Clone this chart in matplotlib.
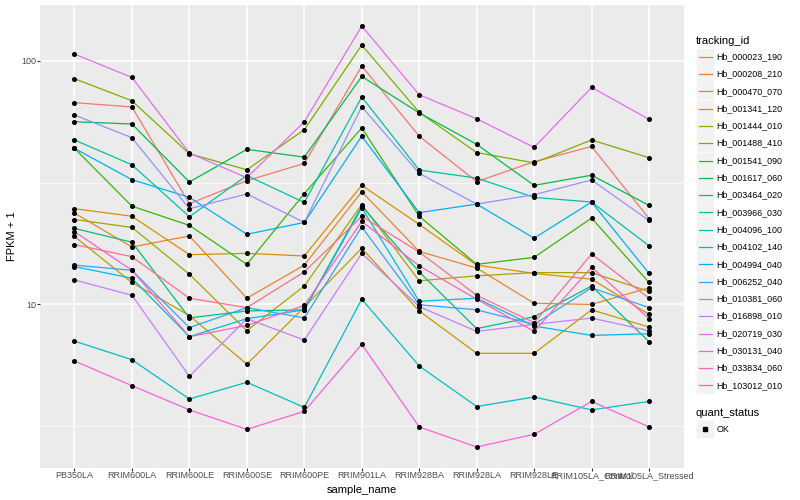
import numpy as np
import matplotlib.pyplot as plt
from matplotlib.lines import Line2D
from matplotlib.patches import Rectangle
from matplotlib.ticker import FixedLocator, NullFormatter

plt.rcParams["font.family"] = ["Liberation Sans", "DejaVu Sans"]

samples = ["PB350LA", "RRIM600LA", "RRIM600LE", "RRIM600SE", "RRIM600PE", "RRIM901LA",
           "RRIM928BA", "RRIM928LA", "RRIM928LE", "RRIM105LA_Control", "RRIM105LA_Stressed"]

tracking_ids = ["Hb_000023_190", "Hb_000208_210", "Hb_000470_070", "Hb_001341_120",
                "Hb_001444_010", "Hb_001488_410", "Hb_001541_090", "Hb_001617_060",
                "Hb_003464_020", "Hb_003966_030", "Hb_004096_100", "Hb_004102_140",
                "Hb_004994_040", "Hb_006252_040", "Hb_010381_060", "Hb_016898_010",
                "Hb_020719_030", "Hb_030131_040", "Hb_033834_060", "Hb_103012_010"]

# FPKM + 1, one list per gene, in sample order
hb_000023_190 = [67.3, 64.6, 25.9, 32.2, 37.9, 95.1, 49.0, 31.9, 38.5, 44.5, 22.5]
hb_000208_210 = [23.7, 17.2, 19.1, 10.6, 14.5, 29.0, 16.5, 14.1, 10.1, 10.0, 11.7]
hb_000470_070 = [24.7, 23.0, 16.0, 16.2, 15.8, 30.8, 21.3, 14.5, 13.4, 12.7, 9.1]
hb_001341_120 = [19.0, 12.3, 9.0, 5.68, 9.75, 17.0, 9.4, 6.3, 6.3, 9.5, 8.07]
hb_001444_010 = [22.3, 20.7, 13.3, 7.8, 11.9, 25.7, 12.5, 13.1, 13.5, 13.5, 11.3]
hb_001488_410 = [84.4, 68.5, 41.5, 35.7, 52.1, 116.0, 61.4, 42.0, 38.1, 47.3, 40.0]
hb_001541_090 = [43.7, 25.3, 21.1, 14.6, 28.5, 53.0, 23.0, 14.6, 15.6, 22.6, 12.3]
hb_001617_060 = [56.2, 55.0, 31.8, 43.3, 40.2, 86.2, 61.1, 45.4, 30.8, 33.9, 25.5]
hb_003464_020 = [20.5, 18.0, 8.8, 9.4, 9.5, 25.3, 13.6, 7.95, 8.9, 11.9, 7.03]
hb_003966_030 = [47.3, 37.4, 22.9, 33.8, 26.2, 71.0, 35.6, 33.0, 27.5, 26.3, 17.4]
hb_004096_100 = [7.07, 5.93, 4.09, 4.79, 3.78, 10.5, 5.59, 3.81, 4.17, 3.69, 4.0]
hb_004102_140 = [14.3, 12.8, 7.37, 8.74, 9.5, 24.9, 10.3, 10.6, 8.15, 7.46, 7.58]
hb_004994_040 = [43.7, 32.5, 27.5, 19.4, 21.7, 49.0, 23.8, 25.8, 18.7, 26.3, 13.4]
hb_006252_040 = [14.5, 13.8, 8.03, 9.7, 8.8, 20.8, 9.97, 9.5, 8.28, 11.7, 9.7]
hb_010381_060 = [59.9, 48.3, 24.7, 28.4, 21.7, 64.8, 34.5, 25.8, 28.2, 32.4, 22.1]
hb_016898_010 = [12.6, 10.9, 5.07, 8.74, 7.14, 16.2, 9.8, 7.75, 8.28, 8.79, 7.8]
hb_020719_030 = [106.5, 85.4, 41.8, 33.1, 56.2, 138.8, 72.5, 57.8, 44.1, 77.7, 57.5]
hb_030131_040 = [5.86, 4.64, 3.69, 3.07, 3.64, 6.86, 3.14, 2.60, 2.93, 4.0, 3.14]
hb_033834_060 = [19.9, 13.8, 7.37, 8.2, 9.9, 21.9, 14.4, 10.5, 7.75, 14.2, 8.74]
hb_103012_010 = [17.6, 15.7, 10.6, 9.7, 13.6, 23.0, 16.4, 10.9, 8.41, 16.1, 10.6]

fpkm = [hb_000023_190, hb_000208_210, hb_000470_070, hb_001341_120, hb_001444_010,
        hb_001488_410, hb_001541_090, hb_001617_060, hb_003464_020, hb_003966_030,
        hb_004096_100, hb_004102_140, hb_004994_040, hb_006252_040, hb_010381_060,
        hb_016898_010, hb_020719_030, hb_030131_040, hb_033834_060, hb_103012_010]

palette = ["#F8766D", "#EA8331", "#D89000", "#C09B00", "#A3A500", "#7CAE00", "#39B600",
           "#00BB4E", "#00BF7D", "#00C1A3", "#00BFC4", "#00BAE0", "#00B0F6", "#35A2FF",
           "#9590FF", "#C77CFF", "#E76BF3", "#FA62DB", "#FF62BC", "#FF6C91"]

W, H = 800, 500
fig = plt.figure(figsize=(W / 100, H / 100), dpi=100)
ax = fig.add_axes([40 / W, 32 / H, 643.5 / W, 463 / H])

x = np.arange(len(samples))
for vals, col in zip(fpkm, palette):
    ax.plot(x, vals, color=col, lw=0.9, zorder=2)
for vals in fpkm:
    ax.plot(x, vals, ls="none", marker="o", ms=2.6, color="black", zorder=3)

ax.set_yscale("log")
lo = np.log10(min(min(v) for v in fpkm))
hi = np.log10(max(max(v) for v in fpkm))
pad = 0.05 * (hi - lo)
ax.set_ylim(10 ** (lo - pad), 10 ** (hi + pad))
ax.set_xlim(-0.6, len(samples) - 0.4)

ax.set_yticks([10, 100])
ax.set_yticklabels(["10", "100"])
ax.yaxis.set_minor_locator(FixedLocator([10 ** 0.5, 10 ** 1.5]))
ax.yaxis.set_minor_formatter(NullFormatter())
ax.set_xticks(x)
ax.set_xticklabels(samples)

ax.set_facecolor("#EBEBEB")
ax.grid(which="major", color="white", lw=1.1)
ax.grid(which="minor", axis="y", color="white", lw=0.5)
ax.set_axisbelow(True)
for s in ax.spines.values():
    s.set_visible(False)
ax.tick_params(which="major", length=2, color="#333333", labelsize=6.5,
               labelcolor="#4D4D4D", pad=0.5)
ax.tick_params(which="minor", length=0)

ax.set_xlabel("sample_name", fontsize=8, labelpad=3)
ax.set_ylabel("FPKM + 1", fontsize=8, labelpad=3)


def fx(px):
    return px / W


def fy(py):
    return 1 - py / H


# legend: tracking_id
fig.text(fx(696), fy(40.5), "tracking_id", fontsize=8, va="center", ha="left")
for i, (tid, col) in enumerate(zip(tracking_ids, palette)):
    cy = 56.7 + i * 17.3
    fig.patches.append(Rectangle((fx(697), fy(cy + 8)), 16 / W, 16 / H,
                                 transform=fig.transFigure, color="#F2F2F2"))
    fig.lines.append(Line2D([fx(698.5), fx(711.5)], [fy(cy), fy(cy)],
                            transform=fig.transFigure, color=col, lw=0.9))
    fig.text(fx(716.5), fy(cy), tid, fontsize=6.4, va="center", ha="left")

# legend: quant_status
fig.text(fx(696), fy(412.5), "quant_status", fontsize=8, va="center", ha="left")
fig.patches.append(Rectangle((fx(697), fy(429 + 8)), 16 / W, 16 / H,
                             transform=fig.transFigure, color="#F2F2F2"))
fig.lines.append(Line2D([fx(705)], [fy(429)], transform=fig.transFigure,
                        ls="none", marker="s", ms=2.6, color="black"))
fig.text(fx(716.5), fy(429), "OK", fontsize=6.4, va="center", ha="left")

fig.savefig("out.png", dpi=100)
